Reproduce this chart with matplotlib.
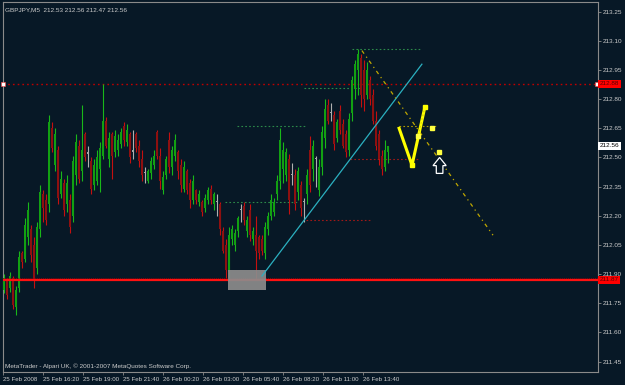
import numpy as np
import matplotlib
matplotlib.use('Agg')
import matplotlib.pyplot as plt
from matplotlib.patches import Rectangle, Polygon
from matplotlib import transforms

plt.rcParams['font.family'] = ['Liberation Sans', 'DejaVu Sans']

# ---------------------------------------------------------------- data (GBPJPY M5)
opens = [211.82, 211.87, 211.83, 211.88, 211.73, 211.83, 212.01, 211.98, 212.09, 212.13,
         212.05, 211.93, 212.13, 212.31, 212.28, 212.26, 212.65, 212.46, 212.54, 212.31,
         212.37, 212.26, 212.28, 212.20, 212.41, 212.56, 212.43, 212.62, 212.52, 212.48,
         212.36, 212.38, 212.44, 212.51, 212.69, 212.49, 212.62, 212.53, 212.54, 212.57,
         212.66, 212.58, 212.62, 212.53, 212.62, 212.56, 212.49, 212.42, 212.38, 212.42,
         212.46, 212.63, 212.51, 212.33, 212.41, 212.59, 212.45, 212.51, 212.53, 212.46,
         212.34, 212.43, 212.37, 212.28, 212.33, 212.27, 212.27, 212.24, 212.28, 212.34,
         212.26, 212.27, 212.26, 212.12, 212.05, 211.91, 212.08, 212.05, 212.12, 212.23,
         212.25, 212.12, 212.23, 212.08, 212.10, 212.09, 212.08, 212.01, 212.13, 212.20,
         212.22, 212.31, 212.38, 212.44, 212.41, 212.49, 212.41, 212.41, 212.32, 212.36,
         212.27, 212.31, 212.54, 212.44, 212.49, 212.33, 212.45, 212.60, 212.77, 212.73,
         212.72, 212.60, 212.74, 212.67, 212.62, 212.54, 212.73, 212.85, 212.95, 213.01,
         212.95, 212.82, 212.90, 212.82, 212.69, 212.62, 212.51, 212.45, 212.53]
highs = [211.90, 211.88, 211.91, 211.89, 211.84, 212.02, 212.02, 212.19, 212.27, 212.15,
         212.09, 212.17, 212.36, 212.33, 212.31, 212.72, 212.68, 212.65, 212.56, 212.43,
         212.39, 212.41, 212.31, 212.51, 212.62, 212.59, 212.77, 212.63, 212.56, 212.50,
         212.49, 212.54, 212.58, 212.88, 212.71, 212.63, 212.63, 212.64, 212.62, 212.65,
         212.68, 212.67, 212.63, 212.64, 212.63, 212.59, 212.54, 212.45, 212.44, 212.50,
         212.54, 212.64, 212.55, 212.43, 212.51, 212.63, 212.56, 212.62, 212.54, 212.49,
         212.48, 212.44, 212.39, 212.41, 212.34, 212.33, 212.28, 212.31, 212.35, 212.36,
         212.32, 212.31, 212.27, 212.14, 212.08, 212.14, 212.15, 212.13, 212.20, 212.26,
         212.27, 212.20, 212.26, 212.14, 212.20, 212.10, 212.10, 212.17, 212.22, 212.31,
         212.29, 212.41, 212.65, 212.58, 212.55, 212.52, 212.47, 212.44, 212.45, 212.38,
         212.29, 212.44, 212.61, 212.59, 212.51, 212.49, 212.66, 212.80, 212.80, 212.78,
         212.74, 212.70, 212.77, 212.70, 212.64, 212.73, 212.92, 213.00, 213.06, 213.03,
         213.00, 212.99, 212.92, 212.85, 212.74, 212.64, 212.54, 212.59, 212.56]
lows = [211.80, 211.77, 211.81, 211.72, 211.69, 211.81, 211.93, 211.96, 212.05, 211.96,
        211.83, 211.90, 212.09, 212.17, 212.15, 212.22, 212.53, 212.43, 212.26, 212.29,
        212.20, 212.22, 212.11, 212.17, 212.36, 212.37, 212.38, 212.48, 212.45, 212.31,
        212.33, 212.36, 212.32, 212.49, 212.55, 212.45, 212.39, 212.50, 212.51, 212.55,
        212.56, 212.56, 212.47, 212.49, 212.53, 212.45, 212.38, 212.37, 212.37, 212.39,
        212.44, 212.49, 212.34, 212.31, 212.39, 212.42, 212.41, 212.48, 212.39, 212.32,
        212.32, 212.31, 212.24, 212.26, 212.26, 212.25, 212.20, 212.22, 212.26, 212.26,
        212.23, 212.20, 212.10, 212.01, 211.88, 211.87, 212.05, 212.02, 212.09, 212.17,
        212.15, 212.09, 212.07, 212.05, 211.87, 211.98, 212.00, 211.98, 212.10, 212.18,
        212.20, 212.28, 212.34, 212.37, 212.38, 212.21, 212.36, 212.23, 212.28, 212.20,
        212.17, 212.26, 212.32, 212.38, 212.35, 212.30, 212.41, 212.55, 212.67, 212.69,
        212.54, 212.58, 212.62, 212.55, 212.50, 212.51, 212.69, 212.80, 212.82, 212.76,
        212.74, 212.80, 212.77, 212.67, 212.54, 212.46, 212.41, 212.43, 212.47]
closes = [211.88, 211.79, 211.89, 211.74, 211.82, 211.99, 211.96, 212.15, 212.23, 212.00,
          211.87, 212.14, 212.32, 212.24, 212.18, 212.68, 212.55, 212.62, 212.29, 212.39,
          212.23, 212.37, 212.14, 212.48, 212.58, 212.39, 212.54, 212.50, 212.52, 212.34,
          212.46, 212.50, 212.55, 212.69, 212.56, 212.60, 212.51, 212.61, 212.59, 212.63,
          212.59, 212.64, 212.50, 212.53, 212.55, 212.48, 212.41, 212.42, 212.43, 212.48,
          212.51, 212.51, 212.38, 212.40, 212.49, 212.45, 212.54, 212.59, 212.43, 212.36,
          212.45, 212.33, 212.28, 212.38, 212.28, 212.31, 212.22, 212.29, 212.33, 212.28,
          212.31, 212.27, 212.13, 212.02, 211.92, 212.10, 212.13, 212.11, 212.19, 212.23,
          212.18, 212.18, 212.10, 212.12, 212.02, 212.01, 212.02, 212.14, 212.20, 212.28,
          212.27, 212.38, 212.59, 212.54, 212.53, 212.28, 212.41, 212.26, 212.43, 212.24,
          212.27, 212.41, 212.36, 212.56, 212.49, 212.45, 212.63, 212.75, 212.69, 212.73,
          212.57, 212.68, 212.64, 212.56, 212.53, 212.70, 212.90, 212.98, 213.03, 212.82,
          212.80, 212.95, 212.80, 212.69, 212.56, 212.49, 212.44, 212.54, 212.56]

time_labels = ['25 Feb 2008', '25 Feb 16:20', '25 Feb 19:00', '25 Feb 21:40', '26 Feb 00:20',
               '26 Feb 03:00', '26 Feb 05:40', '26 Feb 08:20', '26 Feb 11:00', '26 Feb 13:40']
price_ticks = np.round(np.arange(211.45, 213.26, 0.15), 2)

# chart objects (bar index, price)
hline_red = 212.88
hline_support = 211.87
bid = 212.56
trend_cyan = [(86.0, 211.89), (139.3, 212.98)]
fibo_dash = [(119.3, 213.05), (163.0, 212.10)]
zigzag = [(131.7, 212.65), (136.0, 212.46), (140.3, 212.76)]
zz_dots = [(140.3, 212.76), (138.0, 212.61), (142.7, 212.65), (145.0, 212.53)]
box_zone = (74.7, 211.82, 87.3, 211.92)
green_levels = [(213.06, 116.0, 139.0), (212.86, 100.0, 118.7),
                (212.66, 77.7, 100.7), (212.27, 73.7, 97.7)]
red_levels = [(212.49, 115.3, 138.7), (212.18, 100.7, 122.7)]
yellow_level = (212.66, 131.7, 144.3)
arrow_tip = (145.2, 212.50)

# ---------------------------------------------------------------- figure
bg = '#071826'
txt = '#cccccc'
fs_x = 4.4
fs_y = 4.6
fig = plt.figure(figsize=(6.25, 3.85), dpi=100, facecolor=bg)
ax = fig.add_axes([3 / 625, 13 / 385, 595 / 625, 370 / 385], facecolor=bg)

n = len(opens)
x = np.arange(n)
o = np.array(opens)
c = np.array(closes)
h = np.array(highs)
l = np.array(lows)
up = c > o
dn = c < o

wick_col = np.where(up, '#19b819', np.where(dn, '#c41010', '#b0b0b0'))
ax.vlines(x, l, h, colors=wick_col, lw=0.8, zorder=3)
body_col = np.where(up, '#12a012', np.where(dn, '#8e1010', '#a8a8a8'))
bottoms = np.minimum(o, c)
heights = np.maximum(np.abs(c - o), 0.006)
ax.bar(x, heights, bottom=bottoms, width=0.68, color=body_col, lw=0, zorder=4)

# levels
ax.axhline(hline_red, color='#c00000', lw=1.0, ls=(0, (1.2, 2.2)), zorder=2)
ax.axhline(hline_support, color='#ff1010', lw=1.6, zorder=5)
ax.axhline(hline_support + 0.012, color='#a00000', lw=0.6, ls=(0, (1, 1.5)), zorder=5)
ax.plot([-0.33, 197.6], [hline_red, hline_red], ls='none', marker='s', ms=2.2,
        mfc='white', mec='#ff4040', mew=0.4, zorder=6, clip_on=False)

for p, x0, x1 in green_levels:
    ax.plot([x0, x1], [p, p], color='#2c8a4a', lw=0.8, ls=(0, (1.5, 2)), zorder=2)
for p, x0, x1 in red_levels:
    ax.plot([x0, x1], [p, p], color='#a01818', lw=0.8, ls=(0, (1.5, 2)), zorder=2)

x0, p0, x1, p1 = box_zone
ax.add_patch(Rectangle((x0, p0), x1 - x0, p1 - p0, facecolor='#8c8c8c', alpha=0.92,
                       edgecolor='none', zorder=6))

ax.plot(*zip(*trend_cyan), color='#2bb0c0', lw=0.9, zorder=7)
ax.plot(*zip(*fibo_dash), color='#c0a800', lw=0.9, ls=(0, (3, 3, 1, 3)), zorder=7)
p, x0, x1 = yellow_level
ax.plot([x0, x1], [p, p], color='#b09a00', lw=0.8, ls=(0, (1.5, 2)), zorder=7)
ax.plot(*zip(*zigzag), color='#ffff00', lw=2.2, zorder=8, solid_joinstyle='miter')
ax.plot(*zip(*zz_dots[:2]), color='#d8d000', lw=0.8, ls=(0, (1.5, 2)), zorder=8)
ax.plot(*zip(zigzag[1], zigzag[2]), ls='none', marker='s', ms=3, color='#ffff00', zorder=9)
ax.plot(*zip(*zz_dots[1:]), ls='none', marker='s', ms=2.6, color='#ffff40', zorder=9)

# white up arrow
tx, tp = arrow_tip
arrow = [(tx, tp), (tx + 2.2, tp - 0.042), (tx + 1.1, tp - 0.042), (tx + 1.1, tp - 0.082),
         (tx - 1.1, tp - 0.082), (tx - 1.1, tp - 0.042), (tx - 2.2, tp - 0.042)]
ax.add_patch(Polygon(arrow, closed=True, facecolor=bg, edgecolor='white', lw=0.9, zorder=9))

# axes
ax.set_xlim(-0.33, 198)
ax.set_ylim(211.396, 213.30)
for s in ax.spines.values():
    s.set_color('#8a8a8a')
    s.set_linewidth(0.8)

ax.yaxis.tick_right()
ax.set_yticks(price_ticks)
ax.set_yticklabels(['%.2f' % v for v in price_ticks])
ax.tick_params(axis='y', colors='#8a8a8a', labelcolor=txt, labelsize=fs_y, length=2,
               width=0.6, pad=1.5, direction='out')

xt = -0.33 + np.arange(len(time_labels)) * 40 / 3
ax.set_xticks(xt)
ax.set_xticklabels(time_labels, ha='left')
ax.tick_params(axis='x', colors='#8a8a8a', labelcolor=txt, labelsize=fs_x, length=2,
               width=0.6, pad=1.5, direction='out')

# price tags on the right scale
yt = transforms.blended_transform_factory(ax.transAxes, ax.transData)
for val, fc, tc in [(hline_red, '#ff0000', '#5a0000'), (bid, 'white', 'black'),
                    (hline_support, '#ff0000', '#5a0000')]:
    ax.text(1.003, val, '%.2f' % val, transform=yt, fontsize=fs_y, color=tc, va='center',
            ha='left', zorder=10, clip_on=False,
            bbox=dict(boxstyle='square,pad=0.25', fc=fc, ec='none'))

ax.text(0.004, 0.985, 'GBPJPY,M5  212.53 212.56 212.47 212.56', transform=ax.transAxes,
        fontsize=fs_y, color=txt, va='top', ha='left')
ax.text(0.003, 0.008, 'MetaTrader - Alpari UK, \u00a9 2001-2007 MetaQuotes Software Corp.',
        transform=ax.transAxes, fontsize=fs_y, color=txt, va='bottom', ha='left')

fig.savefig('out.png', dpi=100, facecolor=bg)
